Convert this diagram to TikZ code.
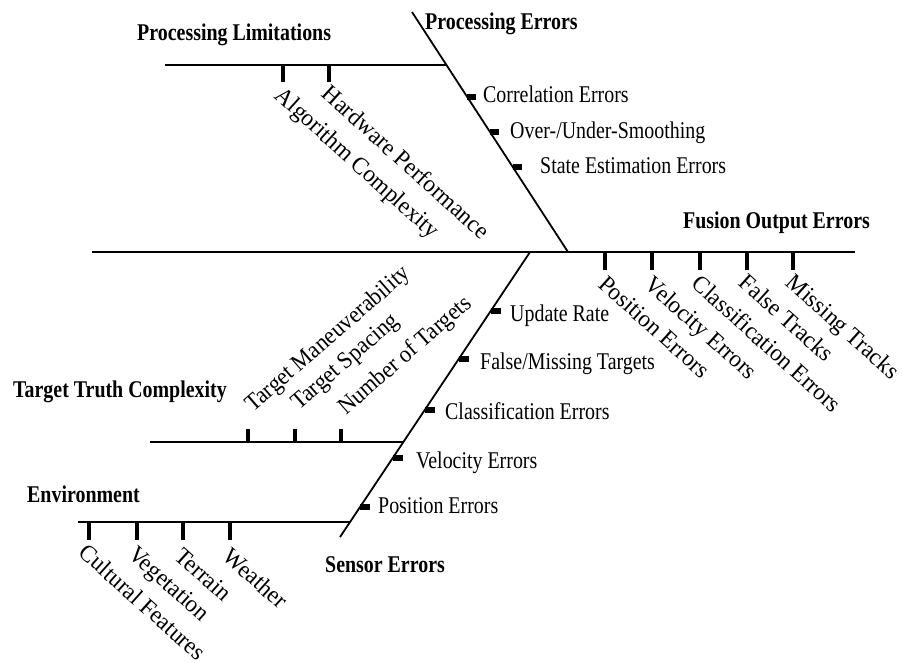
\documentclass[tikz,border=0pt]{standalone}
\usepackage{fontspec}
\setmainfont{Liberation Serif}
\newfontfamily\hfont[FakeStretch=0.83]{Liberation Serif}
\newfontfamily\dfont[FakeStretch=0.965]{Liberation Serif}
\newfontfamily\ufont[FakeStretch=0.93]{Liberation Serif}
\usetikzlibrary{calc}
\begin{document}
\begin{tikzpicture}[x=1pt,y=-1pt,
  bone/.style={line width=1.8pt},
  tickmark/.style={line width=4.5pt},
  subtick/.style={line width=5.5pt},
  hd/.style={font=\fontsize{24}{28}\hfont\bfseries, inner sep=0pt, anchor=base west},
  sub/.style={font=\fontsize{24}{28}\hfont, inner sep=0pt, anchor=base west},
  dn/.style={font=\fontsize{24}{28}\dfont, inner sep=0pt, anchor=north west, rotate=-42},
  upl/.style={font=\fontsize{24}{28}\ufont, inner sep=0pt, anchor=base west, rotate=41}]
\useasboundingbox (0,0) rectangle (902,663);

% main bones
\coordinate (sL) at (92,252);
\coordinate (sR) at (855,252);
\coordinate (peT) at (412,12);
\coordinate (peB) at (568,252);
\coordinate (seT) at (530,252);
\coordinate (seB) at (340,537);
\coordinate (plL) at (165,65);
\coordinate (plR) at ($(peT)!0.221!(peB)$);
\coordinate (ttL) at (150,442);
\coordinate (ttR) at ($(seT)!0.667!(seB)$);
\coordinate (enL) at (78,522);
\coordinate (enR) at ($(seT)!0.947!(seB)$);

\draw[bone] (sL) -- (sR);
\draw[bone] (peT) -- (peB);
\draw[bone] (seT) -- (seB);
\draw[bone] (plL) -- (plR);
\draw[bone] (ttL) -- (ttR);
\draw[bone] (enL) -- (enR);

% headings
\node[hd] (hPL) at (137,41) {Processing Limitations};
\node[hd] (hPE) at (425,30) {Processing Errors};
\node[hd] (hFO) at (683,229) {Fusion Output Errors};
\node[hd] (hTT) at (13,397) {Target Truth Complexity};
\node[hd] (hEN) at (27,502) {Environment};
\node[hd] (hSE) at (325,572) {Sensor Errors};

% processing errors sub-causes
\coordinate (pe1) at ($(peT)!0.354!(peB)$);
\coordinate (pe2) at ($(peT)!0.5!(peB)$);
\coordinate (pe3) at ($(peT)!0.646!(peB)$);
\foreach \c in {pe1,pe2,pe3} \draw[subtick] (\c) -- ++(9,0);
\node[sub] (tpe1) at (483,103) {Correlation Errors};
\node[sub] (tpe2) at (510,139) {Over-/Under-Smoothing};
\node[sub] (tpe3) at (540,174) {State Estimation Errors};

% sensor errors sub-causes
\coordinate (se1) at ($(seT)!0.207!(seB)$);
\coordinate (se2) at ($(seT)!0.375!(seB)$);
\coordinate (se3) at ($(seT)!0.554!(seB)$);
\coordinate (se4) at ($(seT)!0.723!(seB)$);
\coordinate (se5) at ($(seT)!0.895!(seB)$);
\foreach \c in {se1,se2,se3,se4,se5} \draw[subtick] (\c) -- ++(10,0);
\node[sub] (tse1) at (510,321) {Update Rate};
\node[sub] (tse2) at (480,369) {False/Missing Targets};
\node[sub] (tse3) at (445,419) {Classification Errors};
\node[sub] (tse4) at (416,468) {Velocity Errors};
\node[sub] (tse5) at (378,513) {Position Errors};

% processing limitations
\coordinate (pl1) at (283,65);
\coordinate (pl2) at (329,65);
\draw[tickmark] (pl1) -- ++(0,17);
\draw[tickmark] (pl2) -- ++(0,17);
\node[dn] (tpl1) at ($(pl1)+(2,20)$) {Algorithm Complexity};
\node[dn] (tpl2) at ($(pl2)+(3,18)$) {Hardware Performance};

% fusion output errors
\coordinate (f1) at (605,252);
\coordinate (f2) at (652,252);
\coordinate (f3) at (700,252);
\coordinate (f4) at (747,252);
\coordinate (f5) at (793,252);
\foreach \c in {f1,f2,f3,f4,f5} \draw[tickmark] (\c) -- ++(0,18);
\node[dn] (tf1) at ($(f1)+(3,22)$) {Position Errors};
\node[dn] (tf2) at ($(f2)+(3,22)$) {Velocity Errors};
\node[dn] (tf3) at ($(f3)+(2,21)$) {Classification Errors};
\node[dn] (tf4) at ($(f4)+(2,20)$) {False Tracks};
\node[dn] (tf5) at ($(f5)+(3,20)$) {Missing Tracks};

% target truth complexity
\coordinate (t1) at (248,442);
\coordinate (t2) at (295,442);
\coordinate (t3) at (341,442);
\foreach \c in {t1,t2,t3} \draw[tickmark] (\c) -- ++(0,-13);
\node[upl] (tt1) at ($(t1)+(5,-29)$) {Target Maneuverability};
\node[upl] (tt2) at ($(t2)+(4,-31)$) {Target Spacing};
\node[upl] (tt3) at ($(t3)+(5,-26)$) {Number of Targets};

% environment
\coordinate (e1) at (89,522);
\coordinate (e2) at (137,522);
\coordinate (e3) at (183,522);
\coordinate (e4) at (230,522);
\foreach \c in {e1,e2,e3,e4} \draw[tickmark] (\c) -- ++(0,18);
\node[dn] (te1) at ($(e1)+(0,20)$) {Cultural Features};
\node[dn] (te2) at ($(e2)+(1,22)$) {Vegetation};
\node[dn] (te3) at ($(e3)+(1,24)$) {Terrain};
\node[dn] (te4) at ($(e4)+(3,24)$) {Weather};
\end{tikzpicture}
\end{document}
